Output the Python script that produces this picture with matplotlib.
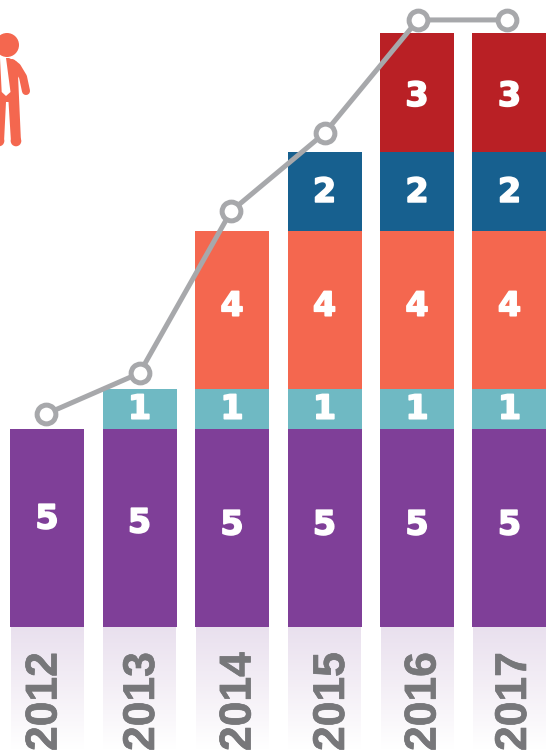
import numpy as np
import matplotlib
matplotlib.use('Agg')
import matplotlib.pyplot as plt
import matplotlib.patheffects as pe
from matplotlib.patches import Circle, Polygon
from matplotlib.colors import LinearSegmentedColormap

years = ['2012', '2013', '2014', '2015', '2016', '2017']
purple_vals = [5, 5, 5, 5, 5, 5]
teal_vals = [0, 1, 1, 1, 1, 1]
orange_vals = [0, 0, 4, 4, 4, 4]
blue_vals = [0, 0, 0, 2, 2, 2]
red_vals = [0, 0, 0, 0, 3, 3]
line_x = [-0.01, 1.0, 1.99, 3, 4.01, 4.97]
line_vals = [5.38, 6.41, 10.5, 12.47, 15.33, 15.33]

series = [
    (purple_vals, '#7f3f98'),
    (teal_vals, '#6fb9c3'),
    (orange_vals, '#f4674f'),
    (blue_vals, '#17608f'),
    (red_vals, '#b92025'),
]
# nudges in pixels for the labels, per bar in each series
label_nudge = [
    [9, 5, 3, 3, 3, 3],
    [0, 0, 0, 0, 0, 0],
    [4, 4, 4, 4, 4, 4],
    [-1, -1, -1, -1, -1, -1],
    [-4, -4, -4, -4, -4, -4],
]
year_nudge = [-2, 3, 7, 8, 7, 5]

PX_X = 92.5
PX_Y = 39.6
x = np.arange(len(years))

fig = plt.figure(figsize=(5.46, 7.52), dpi=100, facecolor='white')
ax = fig.add_axes([0, 0, 1, 1])

bottom = np.zeros(len(years))
for (vals, color), nudges in zip(series, label_nudge):
    vals = np.array(vals)
    ax.bar(x, vals, width=74 / PX_X, bottom=bottom, color=color, linewidth=0, zorder=2)
    for xi, v, b, nudge in zip(x, vals, bottom, nudges):
        if v > 0:
            ax.annotate(str(v), (xi, b + v / 2), xytext=(0, nudge * 0.72), textcoords='offset points',
                        ha='center', va='center', color='white', fontsize=24, fontweight='bold',
                        family='DejaVu Sans', zorder=3,
                        path_effects=[pe.withStroke(linewidth=1.2, foreground='white')])
    bottom = bottom + vals

# fading strip under the bars
fade = LinearSegmentedColormap.from_list('fade', ['#e9e0ee', '#f4eff6', '#ffffff'])
grad = np.linspace(0, 1, 128).reshape(-1, 1)
for xi in x:
    ax.imshow(grad, extent=(xi - 36.5 / PX_X, xi + 36.5 / PX_X, -122 / PX_Y, 0),
              cmap=fade, aspect='auto', origin='upper', zorder=1)
ax.set_xlim(-47 / PX_X, (546 - 47) / PX_X)
ax.set_ylim((627 - 752) / PX_Y, 627 / PX_Y)
ax.axis('off')

for xi, year, nudge in zip(x, years, year_nudge):
    ax.annotate(year, (xi, -124 / PX_Y), xytext=(nudge * 0.72, 0), textcoords='offset points',
                rotation=90, ha='center', va='bottom', color='#77777a', fontsize=32,
                fontweight='bold', family='Liberation Sans', zorder=3,
                path_effects=[pe.withStroke(linewidth=0.5, foreground='#77777a')])

ax.plot(line_x, line_vals, color='#a7a8ab', lw=3.6, marker='o', ms=13.5, mfc='white',
        mec='#a7a8ab', mew=3.6, zorder=4)

# person icon, in pixel coordinates and cut by the left edge
icon = fig.add_axes([0, 0, 1, 1], facecolor='none')
icon.set_xlim(0, 546)
icon.set_ylim(752, 0)
icon.axis('off')
ORANGE = '#f4674f'
icon.add_patch(Circle((7, 45), 12, color=ORANGE, lw=0))
icon.add_patch(Polygon([(-2, 58), (9, 58), (17, 62), (18, 75), (21, 142), (11, 142), (8.5, 102),
                        (6, 102), (4, 142), (-2, 146)], color=ORANGE, lw=0))
icon.add_patch(Circle((16, 141), 5.3, color=ORANGE, lw=0))
icon.add_patch(Circle((-1, 141), 5.3, color=ORANGE, lw=0))
icon.plot([12, 17, 23, 26], [63, 67, 77, 91], color=ORANGE, lw=5.8, solid_capstyle='round')
icon.add_patch(Polygon([(0, 58), (6, 58), (10.5, 92), (6, 96), (1.7, 92)], color='white', lw=0))

fig.savefig('out.png', dpi=100, facecolor='white')
